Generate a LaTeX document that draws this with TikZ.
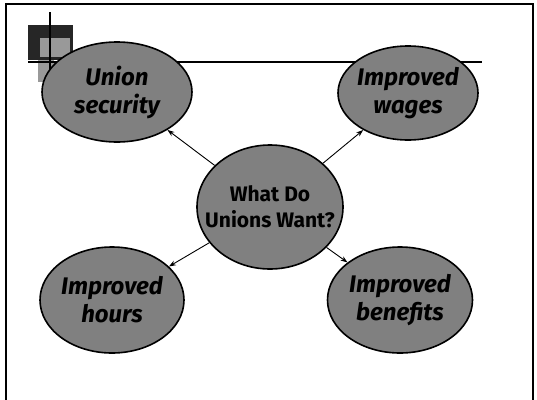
\documentclass[tikz,border=0pt]{standalone}
\usepackage{fontspec}
\setmainfont{Fira Sans}
\usetikzlibrary{shapes.geometric,arrows.meta}
\begin{document}
\begin{tikzpicture}[x=1pt,y=-1pt,
  bubble/.style={ellipse, draw=black, line width=1.6pt, fill=black!50, inner sep=0pt},
  bubbletext/.style={align=center, font=\fontsize{24}{28}\selectfont\bfseries\itshape, text=black},
  hubtext/.style={align=center, font=\fontsize{21}{26}\selectfont\bfseries, text=black},
  arr/.style={-{Stealth[length=7pt,width=5pt]}, line width=0.9pt},
  frame/.style={line width=1.2pt, draw=black}]
  \useasboundingbox (0,0) rectangle (537,399);
  \fill[white] (0,0) rectangle (537,399);

  % slide frame
  \draw[frame] (6,402) -- (6,4) -- (533,4) -- (533,402);

  % title-bar ornament
  \fill[black!40] (38,55) rectangle (54,82);
  \fill[black!85] (28,25) rectangle (73,60);
  \fill[black!40] (40,38) rectangle (70,57);
  \draw[line width=1.8pt] (50,12) -- (50,84);
  \draw[line width=1.8pt] (28,62) -- (482,62);

  % bubbles
  \node[bubble, minimum width=146pt, minimum height=124pt] (hub) at (270,207) {};
  \node[bubble, minimum width=150pt, minimum height=100pt] (security) at (117,92) {};
  \node[bubble, minimum width=140pt, minimum height=94pt] (wages) at (408,93) {};
  \node[bubble, minimum width=144pt, minimum height=106pt] (hours) at (112,300) {};
  \node[bubble, minimum width=145pt, minimum height=106pt] (benefits) at (400,300) {};

  \node[hubtext] (hubl) at (hub.center) {What Do\\Unions Want?};
  \node[bubbletext] (securityl) at (security.center) {Union\\security};
  \node[bubbletext] (wagesl) at (wages.center) {Improved\\wages};
  \node[bubbletext] (hoursl) at (hours.center) {Improved\\hours};
  \node[bubbletext] (benefitsl) at (benefits.center) {Improved\\benefits};

  % connectors
  \draw[arr] (hub) -- (security);
  \draw[arr] (hub) -- (wages);
  \draw[arr] (hub) -- (hours);
  \draw[arr] (hub) -- (benefits);
\end{tikzpicture}
\end{document}
